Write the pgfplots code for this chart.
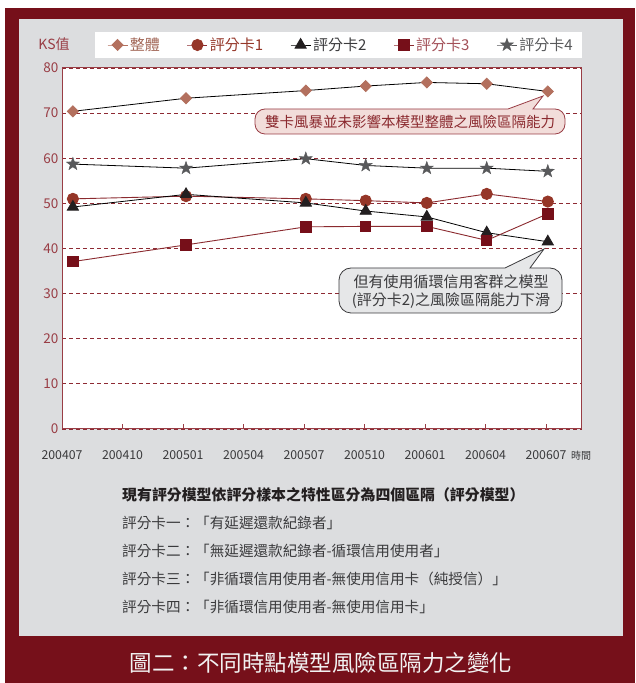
\documentclass[border=0pt]{standalone}
\usepackage{fontspec}
\setmainfont{Noto Sans CJK TC}
\usepackage{pgfplots}
\pgfplotsset{compat=1.18}
\definecolor{frame}{HTML}{76101A}
\definecolor{panel}{HTML}{DCDDDF}
\definecolor{axred}{HTML}{993D45}
\definecolor{gridred}{HTML}{8E2A33}
\definecolor{diam}{HTML}{B3705E}
\definecolor{circ}{HTML}{953628}
\definecolor{sq}{HTML}{760F19}
\definecolor{tri}{HTML}{231F20}
\definecolor{starc}{HTML}{58595B}
\definecolor{txtgray}{HTML}{3A3A3C}
\definecolor{pinkfill}{HTML}{F2DDDA}
\definecolor{grayfill}{HTML}{E6E7E8}
\definecolor{lred}{HTML}{8B2A2F}
\pgfdeclareplotmark{fstar}{%
  \pgfpathmoveto{\pgfpointpolar{90}{\pgfplotmarksize}}%
  \pgfpathlineto{\pgfpointpolar{126}{0.4\pgfplotmarksize}}%
  \pgfpathlineto{\pgfpointpolar{162}{\pgfplotmarksize}}%
  \pgfpathlineto{\pgfpointpolar{198}{0.4\pgfplotmarksize}}%
  \pgfpathlineto{\pgfpointpolar{234}{\pgfplotmarksize}}%
  \pgfpathlineto{\pgfpointpolar{270}{0.4\pgfplotmarksize}}%
  \pgfpathlineto{\pgfpointpolar{306}{\pgfplotmarksize}}%
  \pgfpathlineto{\pgfpointpolar{342}{0.4\pgfplotmarksize}}%
  \pgfpathlineto{\pgfpointpolar{18}{\pgfplotmarksize}}%
  \pgfpathlineto{\pgfpointpolar{54}{0.4\pgfplotmarksize}}%
  \pgfpathclose
  \pgfusepathqfillstroke
}
\begin{document}
\begin{tikzpicture}[x=1pt,y=1pt]
\useasboundingbox (0,0) rectangle (635,683);
\fill[white] (0,0) rectangle (635,683);
\fill[frame] (5,0) rectangle (635,675);
\fill[panel] (19,47) rectangle (623,664);
\fill[white] (95,625) rectangle (582,651);
\begin{axis}[
  at={(62pt,254pt)}, anchor=south west,
  scale only axis, width=520pt, height=361pt,
  xmin=0, xmax=8.595, ymin=0, ymax=80,
  axis background/.style={fill=white},
  axis line style={axred, line width=1pt},
  xtick={0,...,8},
  xticklabels={200407,200410,200501,200504,200507,200510,200601,200604,200607},
  ytick={0,10,...,80},
  ymajorgrids,
  grid style={gridred, dash pattern=on 4pt off 3pt, line width=0.8pt},
  tick align=inside, xtick pos=left, major tick length=5pt,
  xtick style={axred, line width=0.8pt},
  ytick style={draw=none},
  /pgf/number format/assume math mode=true,
  yticklabel style={text=axred, font=\fontsize{13.5}{14}\selectfont},
  xticklabel style={text=txtgray, font=\fontsize{12.3}{13}\selectfont, anchor=center, yshift=-26pt},
  legend columns=5,
  legend style={at={(0.0865,1.0637)}, anchor=west, draw=none, fill=none, inner sep=0pt,
    font=\fontsize{15}{16}\selectfont,
    /tikz/every even column/.append style={column sep=25pt}},
  legend image code/.code={\draw[mark repeat=2,mark phase=2,#1] plot coordinates {(0pt,0pt)(10pt,0pt)(20pt,0pt)};},
]
\addplot[black, line width=0.8pt, mark=square*, mark size=3.9pt,
  mark options={rotate=45, fill=diam, draw=diam, solid},
  legend image post style={draw=diam}]
  coordinates {(0.18,70.4)(2.05,73.3)(4.03,75.0)(5.02,76.0)(6.03,76.8)(7.02,76.5)(8.03,74.8)};
\addlegendentry{\textcolor{diam!90!black}{整體}}
\addplot[lred, line width=0.9pt, mark=*, mark size=5.6pt,
  mark options={fill=circ, draw=circ}]
  coordinates {(0.18,51.0)(2.05,51.6)(4.03,51.0)(5.02,50.6)(6.03,50.1)(7.02,52.1)(8.03,50.4)};
\addlegendentry{\textcolor{circ}{評分卡1}}
\addplot[black, line width=0.8pt, mark=triangle*, mark size=6.5pt,
  mark options={fill=tri, draw=tri}]
  coordinates {(0.18,49.2)(2.05,52.0)(4.03,50.1)(5.02,48.3)(6.03,47.0)(7.02,43.5)(8.03,41.5)};
\addlegendentry{\textcolor{txtgray}{評分卡2}}
\addplot[lred, line width=0.9pt, mark=square*, mark size=5.2pt,
  mark options={fill=sq, draw=sq}]
  coordinates {(0.18,37.1)(2.05,40.8)(4.03,44.8)(5.02,44.9)(6.03,44.9)(7.02,41.8)(8.03,47.7)};
\addlegendentry{\textcolor{axred!90!white}{評分卡3}}
\addplot[black, line width=0.8pt, mark=fstar, mark size=6.8pt,
  mark options={fill=starc, draw=starc, line width=0.4pt},
  legend image post style={draw=starc}]
  coordinates {(0.18,58.7)(2.05,57.8)(4.03,59.9)(5.02,58.4)(6.03,57.8)(7.02,57.8)(8.03,57.1)};
\addlegendentry{\textcolor{starc}{評分卡4}}
\end{axis}
% labels
\node[text=axred, font=\fontsize{14}{15}\selectfont] at (54,639) {KS值};
\node[text=txtgray, font=\fontsize{10}{11}\selectfont] at (581,227) {時間};
% callout 1
\filldraw[fill=pinkfill, draw=axred, line width=0.8pt]
  (265,549) -- (555,549) arc[start angle=-90,end angle=0,radius=10] -- (565,564)
  arc[start angle=0,end angle=90,radius=10] -- (533,574) -- (543,587) -- (508,574) -- (265,574)
  arc[start angle=90,end angle=180,radius=10] -- (255,559)
  arc[start angle=180,end angle=270,radius=10] -- cycle;
\node[text=lred, font=\fontsize{14.5}{15}\selectfont] at (410,561.5) {雙卡風暴並未影響本模型整體之風險區隔能力};
% callout 2
\filldraw[fill=grayfill, draw=txtgray, line width=0.8pt]
  (351,370) -- (550,370) arc[start angle=-90,end angle=0,radius=12] -- (562,403)
  arc[start angle=0,end angle=90,radius=12] -- (530,415) -- (544,434) -- (505,415) -- (351,415)
  arc[start angle=90,end angle=180,radius=12] -- (339,382)
  arc[start angle=180,end angle=270,radius=12] -- cycle;
\node[text=txtgray, font=\fontsize{15}{17.5}\selectfont, align=center] at (451,391.5)
  {但有使用循環信用客群之模型\\(評分卡2)之風險區隔能力下滑};
% notes
\node[anchor=west, inner sep=0pt, text=tri, font=\fontsize{14.9}{16}\selectfont\bfseries] at (122,188)
  {現有評分模型依評分樣本之特性區分為四個區隔（評分模型）};
\node[anchor=west, inner sep=0pt, text=txtgray, font=\fontsize{14.6}{16}\selectfont] at (122,160) {評分卡一：「有延遲還款紀錄者」};
\node[anchor=west, inner sep=0pt, text=txtgray, font=\fontsize{14.6}{16}\selectfont] at (122,132) {評分卡二：「無延遲還款紀錄者-循環信用使用者」};
\node[anchor=west, inner sep=0pt, text=txtgray, font=\fontsize{14.6}{16}\selectfont] at (122,104) {評分卡三：「非循環信用使用者-無使用信用卡（純授信）」};
\node[anchor=west, inner sep=0pt, text=txtgray, font=\fontsize{14.6}{16}\selectfont] at (122,76) {評分卡四：「非循環信用使用者-無使用信用卡」};
% caption
\node[text=white!90!gray, font=\fontsize{22.5}{24}\selectfont] at (321,20) {圖二：不同時點模型風險區隔力之變化};
\end{tikzpicture}
\end{document}
